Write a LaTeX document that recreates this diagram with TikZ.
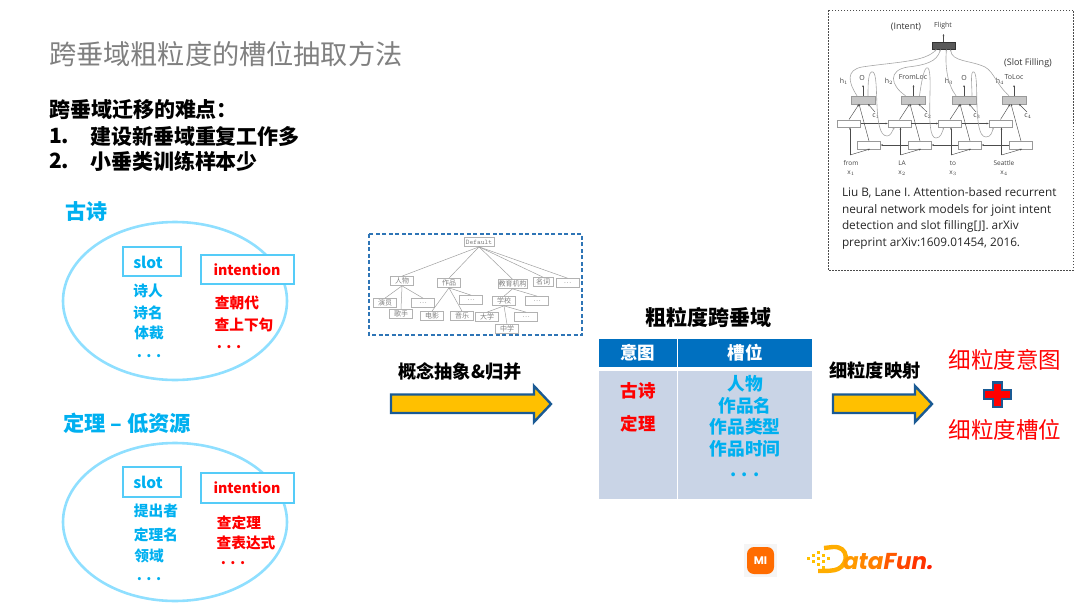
\documentclass[tikz,border=0pt]{standalone}
\usepackage{fontspec}
\setmainfont{Noto Sans CJK SC}
\newfontfamily\capfont{Open Sans}
\newfontfamily\logofont{Poppins}
\usetikzlibrary{arrows.meta,shapes.geometric}
\definecolor{sky}{HTML}{00B0F0}
\definecolor{ring}{HTML}{8FDFFF}
\definecolor{boxline}{HTML}{55CCF8}
\definecolor{headblue}{HTML}{0070C0}
\definecolor{cellblue}{HTML}{C9D4E6}
\definecolor{arrowblue}{HTML}{1A5A94}
\definecolor{amber}{HTML}{FFC000}
\definecolor{framedash}{HTML}{2E75B6}
\newcommand{\fs}[1]{\fontsize{#1}{#1}\selectfont}
\tikzset{
  x=1pt,y=-1pt,
  txt/.style={inner sep=0pt,outer sep=0pt,align=center},
  bluet/.style={txt,text=sky,font=\fs{14.7}\bfseries},
  redt/.style={txt,text=red,font=\fs{14.7}\bfseries},
  dotsn/.style={text height=2pt,text depth=0pt},
  lbox/.style={draw=boxline,line width=2pt,fill=white},
  oval/.style={draw=ring,line width=2.6pt,ellipse,minimum width=224pt,minimum height=158pt},
  cellh/.style={fill=headblue,inner sep=0pt,minimum height=28pt,text=white,font=\fs{17.5}\bfseries},
  cellb/.style={fill=cellblue,inner sep=0pt},
  tn/.style={draw=gray!60,line width=.7pt,fill=white,inner sep=0pt,minimum height=9pt,text=gray,font=\fs{7}},
  tl/.style={draw=gray!75,line width=.5pt},
  fatarrow/.style={draw=arrowblue,line width=2.4pt,fill=amber,miter limit=10},
  pb/.style={draw=gray!80,line width=.5pt,fill=white,minimum width=23pt,minimum height=7.5pt,inner sep=0pt},
  pg/.style={draw=gray!80,line width=.5pt,fill=gray!45,minimum width=24pt,minimum height=8pt,inner sep=0pt},
  pl/.style={draw=black!70,line width=.45pt,-{Stealth[length=2.2pt,width=1.8pt]}},
  pc/.style={draw=gray!70,line width=.6pt,-{Stealth[length=2.2pt,width=1.8pt]}},
  pt/.style={txt,text=black!75,font=\capfont\fs{7}},
}
\begin{document}
\begin{tikzpicture}
\useasboundingbox (0,0) rectangle (1080,608);
% headings
\node[txt,anchor=west,text=gray,font=\fs{27.2}] (title) at (49,54) {跨垂域粗粒度的槽位抽取方法};
\node[txt,anchor=west,font=\fs{21}\bfseries] (h0) at (49,110) {跨垂域迁移的难点：};
\node[txt,anchor=west,font=\fs{21}\bfseries] (h1n) at (49,136) {1.};
\node[txt,anchor=west,font=\fs{21}\bfseries] (h1) at (90,136) {建设新垂域重复工作多};
\node[txt,anchor=west,font=\fs{21}\bfseries] (h2n) at (49,161) {2.};
\node[txt,anchor=west,font=\fs{21}\bfseries] (h2) at (90,161) {小垂类训练样本少};
% group 1
\node[txt,text=sky,font=\fs{21}\bfseries] (gs) at (86,212) {古诗};
\node[oval] (e1) at (175,301) {};
\draw[lbox] (123,247) rectangle (181,276);
\node[bluet,font=\fs{15.5}\bfseries] (s1) at (148,262) {slot};
\draw[lbox] (201,255) rectangle (294,284);
\node[redt,font=\fs{14.2}\bfseries] (i1) at (247,270) {intention};
\node[bluet] (a1) at (148,291) {诗人};
\node[bluet] (a2) at (148,313) {诗名};
\node[bluet] (a3) at (149,333) {体裁};
\node[bluet,dotsn] (a4) at (149,356) {. . .};
\node[redt] (b1) at (237,303) {查朝代};
\node[redt] (b2) at (244,325) {查上下句};
\node[redt,dotsn] (b3) at (229,347) {. . .};
% group 2
\node[txt,text=sky,font=\fs{21.3}\bfseries] (dl) at (127,423) {定理 – 低资源};
\node[oval] (e2) at (175,522) {};
\draw[lbox] (123,467) rectangle (181,497);
\node[bluet,font=\fs{15.5}\bfseries] (s2) at (148,482) {slot};
\draw[lbox] (201,473) rectangle (294,503);
\node[redt,font=\fs{14.2}\bfseries] (i2) at (247,488) {intention};
\node[bluet] (c1) at (156,511) {提出者};
\node[bluet] (c2) at (156,535) {定理名};
\node[bluet] (c3) at (149,556) {领域};
\node[bluet,dotsn] (c4) at (149,579) {. . .};
\node[redt] (d1) at (239,523) {查定理};
\node[redt] (d2) at (246,543) {查表达式};
\node[redt,dotsn] (d3) at (233,563) {. . .};
% tree
\draw[framedash,line width=1.1pt,dash pattern=on 4pt off 2.5pt] (369,234) rectangle (582,335);
\node[tn,minimum width=30pt,font=\ttfamily\fs{7}] (t0) at (479,242) {Default};
\node[tn,minimum width=23pt] (t1) at (402,281) {人物};
\node[tn,minimum width=23pt] (t2) at (449,283) {作品};
\node[tn,minimum width=29pt] (t3) at (512.5,284) {教育机构};
\node[tn,minimum width=20pt] (t4) at (543,282) {名词};
\node[tn,minimum width=23pt] (t5) at (567.5,283) {…};
\node[tn,minimum width=23pt] (t11) at (385,303) {演员};
\node[tn,minimum width=23pt] (t12) at (401,314) {歌手};
\node[tn,minimum width=23pt] (t13) at (423,303) {…};
\node[tn,minimum width=23pt] (t21) at (432,316) {电影};
\node[tn,minimum width=23pt] (t22) at (462,316) {音乐};
\node[tn,minimum width=23pt] (t23) at (471,300) {…};
\node[tn,minimum width=23pt] (t31) at (504,301) {学校};
\node[tn,minimum width=23pt] (t32) at (537,301) {…};
\node[tn,minimum width=23pt] (t41) at (487,317) {大学};
\node[tn,minimum width=23pt] (t42) at (507,329) {中学};
\node[tn,minimum width=23pt] (t43) at (526,317) {…};
\foreach \p/\c in {t0/t1,t0/t2,t0/t3,t0/t4,t0/t5,t1/t11,t1/t12,t1/t13,t2/t21,t2/t22,t2/t23,t3/t31,t3/t32,t31/t41,t31/t42,t31/t43}
  \draw[tl] (\p.south) -- (\c.north);
% paper figure frame
\draw[black!70,line width=.8pt,dash pattern=on 1.5pt off 1.5pt] (828,10) rectangle (1073,270);
\node[txt,font=\capfont\fs{9},text=black!80] (intent) at (906,27) {(Intent)};
\node[pt] (flight) at (943,26) {Flight};
\node[txt,font=\capfont\fs{9},text=black!80] (slotf) at (1028,63) {(Slot Filling)};
\node[draw=black!80,fill=black!65,line width=.5pt,minimum width=23pt,minimum height=7pt,inner sep=0pt] (ib) at (943.5,45.5) {};
\coordinate (iout) at (943.5,34);
\draw[pl] (ib.north) -- (iout);
\foreach \i/\gx/\fx/\bx/\wx/\lab/\labx/\hx/\cx in {1/863/849/869/851/O/862/844/876, 2/913.5/899.5/920/902/FromLoc/913/889/928, 3/964/950/970/953/O/964/949/977, 4/1014/1000.5/1021/1004/ToLoc/1014/1000/1028}{
  \node[pg] (g\i) at (\gx,100) {};
  \node[pb] (f\i) at (\fx,123.5) {};
  \node[pb] (r\i) at (\bx,145) {};
  \node[pt] (o\i) at (\labx,77.5) {\lab};
  \node[pt] (hh\i) at (\hx,81.5) {h$_{\i}$};
  \node[pt] (cc\i) at (\cx,116) {c$_{\i}$};
  \coordinate (ca\i) at (\cx-1,112);
  \draw[pl] (g\i.north) -- (\gx,85);
  \draw[pl] (f\i.north) -- ([xshift=-4pt]g\i.south);
  \draw[pl] (r\i.north) -- (\bx-10,104);
  \draw[pl] (ca\i) -- (\gx+5,104);
  \node[pt,font=\capfont\fs{6.5}] (w\i) at (\wx,163) {\ifnum\i=1 from\else\ifnum\i=2 LA\else\ifnum\i=3 to\else Seattle\fi\fi\fi};
  \node[pt,font=\capfont\fs{6.5}] (x\i) at (\wx,173) {x$_{\i}$};
  \draw[pl] (\fx+1,155) -- ([xshift=1pt]f\i.south);
  \draw[pl] (\fx+1,155) -- ([xshift=1pt]r\i.south);
}
\foreach \a/\b in {1/2,2/3,3/4} {\draw[pl] (f\a.east) -- (f\b.west);}
\foreach \a/\b in {2/1,3/2,4/3} {\draw[pl] (r\a.west) -- (r\b.east);}
\draw[pc] ([xshift=-6pt]g1.north) .. controls (848,82) and (846,70) .. (862,67) .. controls (895,62) and (925,62) .. ([xshift=-7pt]ib.south);
\draw[pc] ([xshift=-8pt]g2.north) .. controls (890,85) and (888,70) .. (908,67) .. controls (925,65) and (937,62) .. ([xshift=-3pt]ib.south);
\draw[pc] ([xshift=-8pt]g3.north) .. controls (947,84) and (945,65) .. ([xshift=3pt]ib.south);
\draw[pc] ([xshift=-5pt]g4.north) .. controls (996,84) and (994,72) .. (985,67) .. controls (970,60) and (952,62) .. ([xshift=7pt]ib.south);
\draw[pc] ([xshift=5pt]g1.north) .. controls (868,85) and (868,70) .. (873,72) .. controls (880,76) and (872,136) .. (887,136) .. controls (891,136) and (892,131) .. ([xshift=-5pt]f2.south);
\draw[pc] ([xshift=6pt]g2.north) .. controls (921,85) and (924,65) .. (928,68) .. controls (934,74) and (924,138) .. (936,138) .. controls (941,138) and (942,132) .. ([xshift=-6pt]f3.south);
\draw[pc] ([xshift=8pt]g3.north) .. controls (972,85) and (970,70) .. (974,72) .. controls (980,76) and (972,137) .. (986,137) .. controls (991,137) and (992,132) .. ([xshift=-7pt]f4.south);
% caption
\node[txt,anchor=north west,align=left,font=\capfont\fontsize{11.8}{16.4}\selectfont,text=black!85] (capt) at (842,188) {Liu B, Lane I. Attention-based recurrent\\neural network models for joint intent\\detection and slot filling[J]. arXiv\\preprint arXiv:1609.01454, 2016.};
% arrow 1
\node[txt,font=\fs{18.2}\bfseries] (lab1) at (460,372) {概念抽象\&归并};
\draw[fatarrow] (391,394.5) -- (534,394.5) -- (534,386) -- (551,404) -- (534,422) -- (534,413) -- (391,413) -- cycle;
% table
\node[txt,font=\fs{21}\bfseries] (tt) at (708,317) {粗粒度跨垂域};
\node[cellh,minimum width=77.5pt] (th1) at (637.8,353) {意图};
\node[cellh,minimum width=133.5pt] (th2) at (745.2,353) {槽位};
\node[cellb,minimum width=77.5pt,minimum height=128pt] (tb1) at (637.8,435) {};
\node[cellb,minimum width=133.5pt,minimum height=128pt] (tb2) at (745.2,435) {};
\node[txt,text=red,font=\fs{17.5}\bfseries] (m1) at (638,391) {古诗};
\node[txt,text=red,font=\fs{17.5}\bfseries] (m2) at (638,424) {定理};
\node[txt,text=sky,font=\fs{17.7}\bfseries] (n1) at (745,384) {人物};
\node[txt,text=sky,font=\fs{17.7}\bfseries] (n2) at (745,406) {作品名};
\node[txt,text=sky,font=\fs{17.7}\bfseries] (n3) at (745,427) {作品类型};
\node[txt,text=sky,font=\fs{17.7}\bfseries] (n4) at (745,449) {作品时间};
\node[txt,text=sky,font=\fs{17.7}\bfseries,dotsn] (n5) at (745,475) {. . .};
% arrow 2
\node[txt,font=\fs{18.2}\bfseries] (lab2) at (875,371) {细粒度映射};
\draw[fatarrow] (833,394.5) -- (915,394.5) -- (915,386) -- (932,404) -- (915,422) -- (915,413) -- (833,413) -- cycle;
% result
\node[txt,text=red,font=\fs{22.5}] (r1t) at (1005,360) {细粒度意图};
\node[txt,text=red,font=\fs{22.5}] (r2t) at (1005,430) {细粒度槽位};
\draw[draw=arrowblue,line width=2.4pt,fill=red] (993,382.5) -- (1002,382.5) -- (1002,390) -- (1011,390) -- (1011,399) -- (1002,399) -- (1002,407) -- (993,407) -- (993,399) -- (984,399) -- (984,390) -- (993,390) -- cycle;
% logos
\fill[gray!8] (744,544) rectangle (777,577);
\fill[orange!85!red,rounded corners=7pt] (747,547) rectangle (774,574);
\node[txt,text=white,font=\logofont\bfseries\fs{11}] (mi) at (760.5,560.5) {MI};
\foreach \x/\y/\s in {807/557/3,812/554/3,812/560/3,817/551/3.4,817/557/3.4,817/563/3,822/554/3.4,822/560/3.4,822/566/3,827/557/3}
  \fill[amber] (\x,\y) rectangle ++(\s,\s);
\draw[amber!70!orange,line width=4.4pt] (824,548) -- (833,547) .. controls (849,546) and (849,564) .. (838,569) .. controls (834,571) and (826,571) .. (818,571);
\node[txt,anchor=west,font=\logofont\bfseries\itshape\fs{23}] (dfn) at (843,562) {\textcolor{orange!60!amber}{a}\textcolor{orange!90!amber}{t}\textcolor{orange}{a}\textcolor{orange!70!red}{F}\textcolor{orange!55!red}{u}\textcolor{orange!40!red}{n}\textcolor{orange!25!red}{.}};
\end{tikzpicture}
\end{document}
